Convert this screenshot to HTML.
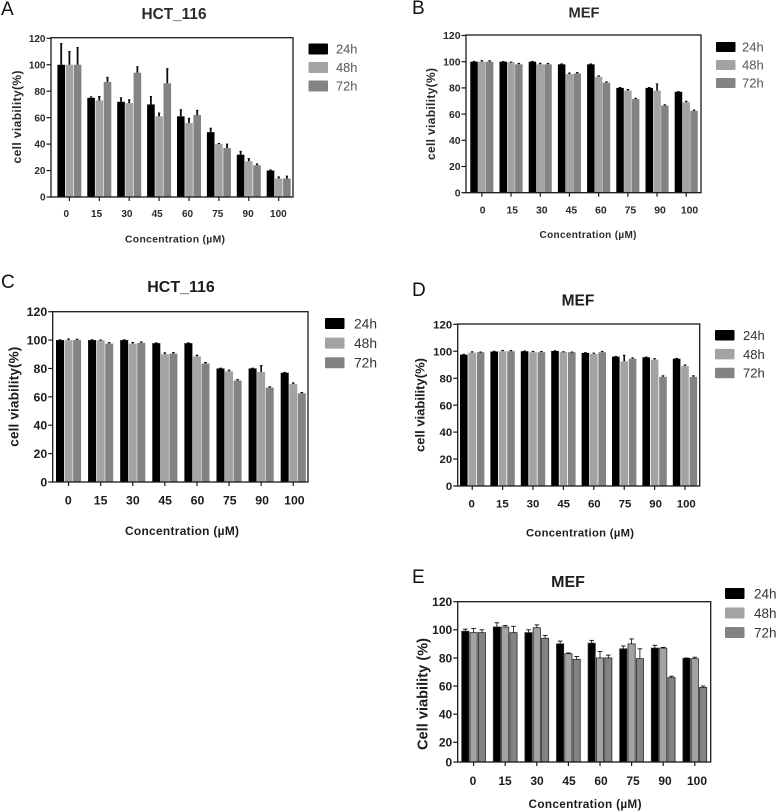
<!DOCTYPE html>
<html lang="en">
<head>
<meta charset="utf-8">
<title>Cell viability charts</title>
<style>
html,body{margin:0;padding:0;background:#fff;width:777px;height:811px;overflow:hidden}
svg{display:block;filter:blur(0.35px)}
text{font-family:"Liberation Sans",sans-serif}
</style>
</head>
<body>
<svg id="figure" xmlns="http://www.w3.org/2000/svg" width="777" height="811" viewBox="0 0 777 811"></svg>
<script>
const categories = ['0','15','30','45','60','75','90','100'];
const seriesNames = ['24h','48h','72h'];
const yTickLabels = [0,20,40,60,80,100,120];

const a24 = [100,75,72,70,61,49,32,20];
const a48 = [100,73,71,61,56,40,27,14];
const a72 = [100,87,94,86,62,37,24,14];
const aErr24 = [16,0.8,3,6,5,3,2.5,0.5];
const aErr48 = [10,3,2.5,2.5,3.5,0.5,2,1.2];
const aErr72 = [13,3.5,4.5,11,3.5,3,1,1.8];

const b24 = [100,100,100,98,98,80,80,77];
const b48 = [100,99.5,98,90.5,88.5,78,78,69];
const b72 = [100,98,98,91,84,71.5,66.5,62.5];
const bErr24 = [0.2,0.2,0.2,0.3,0.3,0.3,0.3,0.2];
const bErr48 = [0.8,0.2,0.8,0.8,0.7,0.8,5,0.8];
const bErr72 = [0.7,0.7,0.7,0.7,0.6,0.6,0.6,0.6];

const c24 = [100,100,100,97.8,97.8,80,80,77];
const c48 = [100,99.8,97.5,90,88.5,78,77.5,69];
const c72 = [100,97.5,98,90.5,83.5,71.5,66.5,62.5];
const cErr24 = [0.2,0.2,0.2,0.2,0.2,0.2,0.2,0.2];
const cErr48 = [0.8,0.2,0.8,1,0.8,0.8,4.5,0.8];
const cErr72 = [0.6,0.7,0.7,0.7,0.7,0.6,0.6,0.6];

const d24 = [97.5,99.8,100,100.2,98.8,96,95.5,94.5];
const d48 = [99,100,99.3,99.5,98,92.5,93.8,89];
const d72 = [99.3,100,99.3,99.3,99.3,94.5,81,81];
const dErr24 = [0.2,0.2,0.2,0.2,0.2,0.2,0.2,0.2];
const dErr48 = [0.6,0.6,0.6,0.1,0.6,4.5,0.7,0.8];
const dErr72 = [0.1,0.6,0.5,0.1,0.6,0.6,0.8,0.8];

const e24 = [99,102,98,90,90.5,86.5,87,79.7];
const e48 = [98,102,101.5,83,80,90,87,79.5];
const e72 = [98,98,94,79,80,79.5,66,59];
const eErr24 = [1.5,3,2,2,2,2,2,0.3];
const eErr48 = [3,1,2,0.5,4.5,3.5,0.5,1];
const eErr72 = [2,4.5,2,2,2,7,1,1];

const swatchColors = ['#000000','#a3a3a6','#838385'];
const SVGNS = 'http://www.w3.org/2000/svg';
const figure = document.getElementById('figure');

function make(tag, attrs, parent) {
  const node = document.createElementNS(SVGNS, tag);
  for (const key in attrs) node.setAttribute(key, attrs[key]);
  parent.appendChild(node);
  return node;
}

function drawPanel(p) {
  const g = make('g', {}, figure);
  
  

  const yScale = function (v) {
    if (p.breakValue !== undefined && v < p.breakValue) {
      return p.bottom - (p.bottom - p.breakY) * (v / p.breakValue);
    }
    const anchorV = p.breakValue !== undefined ? p.breakValue : 0;
    const anchorY = p.breakValue !== undefined ? p.breakY : p.bottom;
    return anchorY - (anchorY - p.yTop) * (v - anchorV) / (120 - anchorV);
  };
  const barX = function (group, series) {
    return p.firstBar + group * p.groupStep + series * p.seriesStep;
  };
  const groupCenter = function (group) {
    return barX(group, 1) + p.barW / 2;
  };

  const letter = make('text', {x: p.letterX, y: p.letterY, 'font-size': 19, fill: '#111'}, g);
  letter.textContent = p.letter;
  
  

  const title = make('text', {x: p.titleX, y: p.titleY, 'font-size': p.titleSize, 'font-weight': 'bold', 'text-anchor': 'middle', fill: p.textColor}, g);
  title.textContent = p.title;
  
  

  p.series.forEach(function (values, s) {
    values.forEach(function (v, i) {
      const x = barX(i, s);
      const top = yScale(v);
      const bar = make('rect', {x: x, y: top, width: p.barW, height: p.bottom - top, fill: swatchColors[s]}, g);
      if (p.barStroke) {
        bar.setAttribute('stroke', p.barStroke);
        bar.setAttribute('stroke-width', '0.8');
      }
      
      

      const errTop = yScale(v + p.errors[s][i]);
      const cx = x + p.barW / 2;
      const err = make('line', {x1: cx, x2: cx, y1: top, y2: errTop, stroke: '#0a0a0a', 'stroke-width': p.errWidth}, g);
      
      

      const cap = make('line', {x1: cx - p.capW / 2, x2: cx + p.capW / 2, y1: errTop, y2: errTop, stroke: '#0a0a0a', 'stroke-width': p.capThick}, g);
      
      
    });
  });

  const frame = make('rect', {x: p.left, y: p.top, width: p.right - p.left, height: p.bottom - p.top, fill: 'none', stroke: '#1a1a1a', 'stroke-width': 1.3}, g);
  
  

  yTickLabels.forEach(function (t) {
    const yy = yScale(t);
    const tick = make('line', {x1: p.left - 4.5, x2: p.left, y1: yy, y2: yy, stroke: '#1a1a1a', 'stroke-width': 1.2}, g);
    
    

    const label = make('text', {x: p.left - 5.5, y: yy + p.tickSize * 0.36, 'font-size': p.tickSize, 'font-weight': 'bold', 'text-anchor': 'end', fill: p.textColor}, g);
    label.textContent = t;
    
    
  });

  categories.forEach(function (c, i) {
    const cx = groupCenter(i);
    const tick = make('line', {x1: cx, x2: cx, y1: p.bottom, y2: p.bottom + 4, stroke: '#1a1a1a', 'stroke-width': 1.2}, g);
    
    

    const label = make('text', {x: p.labelStart + i * p.labelStep, y: p.labelY, 'font-size': p.tickSize, 'font-weight': 'bold', 'text-anchor': 'middle', fill: p.textColor}, g);
    label.textContent = c;
    
    
  });

  const xTitle = make('text', {x: p.xTitleX, y: p.xTitleY, 'font-size': p.xTitleSize, 'font-weight': 'bold', 'text-anchor': 'middle', fill: p.textColor, textLength: p.xTitleLen, lengthAdjust: 'spacing'}, g);
  xTitle.textContent = 'Concentration (\u00b5M)';
  
  

  const yTitle = make('text', {x: 0, y: 0, transform: 'translate(' + p.yTitleX + ' ' + p.yTitleY + ') rotate(-90)', 'font-size': p.yTitleSize, 'font-weight': 'bold', 'text-anchor': 'middle', fill: p.textColor, textLength: p.yTitleLen, lengthAdjust: 'spacing'}, g);
  yTitle.textContent = p.yTitle;
  
  

  seriesNames.forEach(function (name, s) {
    const sy = p.legendY + s * p.legendStep;
    const swatch = make('rect', {x: p.legendX, y: sy, width: 19.5, height: p.swatchH, rx: 1, fill: swatchColors[s]}, g);
    
    

    const text = make('text', {x: p.legendTextX, y: sy + p.swatchH / 2 + p.legendSize * 0.36, 'font-size': p.legendSize, fill: p.legendColor}, g);
    text.textContent = name;
    
    
  });
}

drawPanel({
  letter: 'A', letterX: 1, letterY: 15, title: 'HCT_116', titleX: 174, titleY: 19, titleSize: 15.4, textColor: '#2a2a2a',
  series: [a24, a48, a72], errors: [aErr24, aErr48, aErr72],
  left: 51, right: 293, top: 37.7, yTop: 38.3, bottom: 197,
  firstBar: 57.4, groupStep: 29.9, seriesStep: 8.2, barW: 7.6, errWidth: 1.8, capW: 2.4, capThick: 1,
  tickSize: 10, labelStart: 66.3, labelStep: 30.3, labelY: 217,
  xTitleX: 175, xTitleY: 242.5, xTitleSize: 10.4, xTitleLen: 100,
  yTitle: 'cell viability(%)', yTitleX: 21, yTitleY: 117, yTitleSize: 12, yTitleLen: 93,
  legendX: 308.5, legendY: 43.5, legendStep: 18.5, swatchH: 11, legendTextX: 336, legendSize: 12.8, legendColor: '#555'
});

drawPanel({
  letter: 'B', letterX: 412, letterY: 14, title: 'MEF', titleX: 584, titleY: 17.5, titleSize: 14.7, textColor: '#2a2a2a',
  series: [b24, b48, b72], errors: [bErr24, bErr48, bErr72],
  left: 466, right: 701, top: 35, yTop: 35.5, bottom: 192.7,
  firstBar: 470.3, groupStep: 29.2, seriesStep: 7.8, barW: 7.5, errWidth: 1.6, capW: 2.6, capThick: 1,
  tickSize: 10.4, labelStart: 482.7, labelStep: 29.55, labelY: 213.5,
  xTitleX: 588, xTitleY: 238, xTitleSize: 10, xTitleLen: 97,
  yTitle: 'cell viability(%)', yTitleX: 435, yTitleY: 114, yTitleSize: 12, yTitleLen: 92,
  legendX: 716, legendY: 42, legendStep: 18, swatchH: 10, legendTextX: 742, legendSize: 13, legendColor: '#555'
});

drawPanel({
  letter: 'C', letterX: 1, letterY: 288, title: 'HCT_116', titleX: 181, titleY: 292, titleSize: 16, textColor: '#1c1c1c',
  series: [c24, c48, c72], errors: [cErr24, cErr48, cErr72],
  left: 52.7, right: 308, top: 311.7, yTop: 311.7, bottom: 482,
  firstBar: 56, groupStep: 32.1, seriesStep: 8.55, barW: 8, errWidth: 1.6, capW: 2.8, capThick: 1,
  tickSize: 12.3, labelStart: 68.3, labelStep: 32.3, labelY: 504.5,
  xTitleX: 182, xTitleY: 535, xTitleSize: 11.9, xTitleLen: 114,
  yTitle: 'cell viability(%)', yTitleX: 18.5, yTitleY: 396.7, yTitleSize: 13.5, yTitleLen: 100,
  legendX: 325, legendY: 318, legendStep: 19.6, swatchH: 11, legendTextX: 354, legendSize: 13.8, legendColor: '#333'
});

drawPanel({
  letter: 'D', letterX: 412, letterY: 296, title: 'MEF', titleX: 578, titleY: 305.5, titleSize: 15.5, textColor: '#1c1c1c',
  series: [d24, d48, d72], errors: [dErr24, dErr48, dErr72],
  left: 457.7, right: 699.7, top: 324, yTop: 324.3, bottom: 486,
  firstBar: 460, groupStep: 30.4, seriesStep: 8.4, barW: 7.6, errWidth: 1.6, capW: 2.6, capThick: 1,
  tickSize: 11.4, labelStart: 471.7, labelStep: 30.65, labelY: 507.5,
  xTitleX: 580, xTitleY: 536.5, xTitleSize: 11.2, xTitleLen: 108,
  yTitle: 'cell viability(%)', yTitleX: 424.5, yTitleY: 405, yTitleSize: 13, yTitleLen: 94,
  legendX: 715, legendY: 330, legendStep: 18.9, swatchH: 10.5, legendTextX: 743, legendSize: 13, legendColor: '#333'
});

drawPanel({
  letter: 'E', letterX: 412, letterY: 583, title: 'MEF', titleX: 568, titleY: 587, titleSize: 16, textColor: '#1c1c1c',
  series: [e24, e48, e72], errors: [eErr24, eErr48, eErr72],
  left: 457.7, right: 710.7, top: 601.7, yTop: 601.7, bottom: 762, breakValue: 20, breakY: 742.3,
  firstBar: 461.7, groupStep: 31.6, seriesStep: 8.3, barW: 7.2, barStroke: '#2a2a2a', errWidth: 0.8, capW: 4.6, capThick: 0.9,
  tickSize: 12, labelStart: 473, labelStep: 32, labelY: 785,
  xTitleX: 585, xTitleY: 808, xTitleSize: 11.8, xTitleLen: 113,
  yTitle: 'Cell viability (%)', yTitleX: 427.5, yTitleY: 694, yTitleSize: 14.5, yTitleLen: 112,
  legendX: 725, legendY: 588, legendStep: 19.5, swatchH: 11, legendTextX: 754, legendSize: 13.5, legendColor: '#333'
});
</script>
</body>
</html>
